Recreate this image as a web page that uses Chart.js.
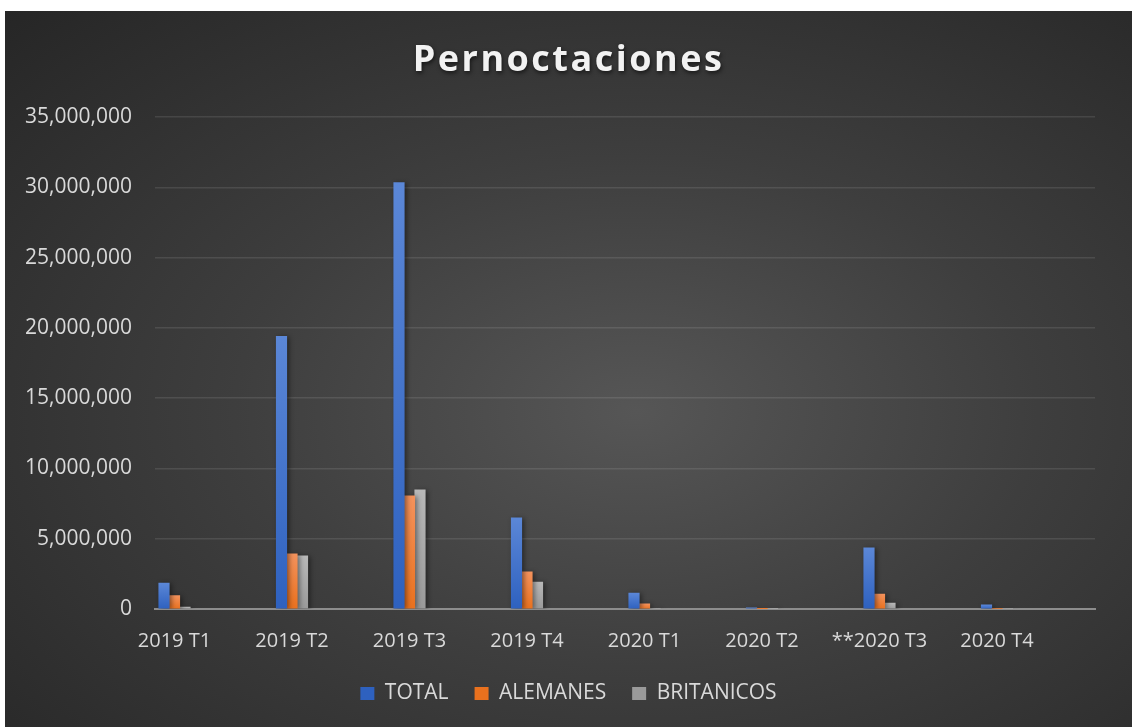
<!DOCTYPE html>
<html>
<head>
<meta charset="utf-8">
<script src="https://cdn.jsdelivr.net/npm/chart.js@4.4.1/dist/chart.umd.min.js"></script>
<style>
  html, body { margin: 0; padding: 0; background: #fff; }
  #wrap {
    position: absolute; left: 5px; top: 11px; width: 1127px; height: 716px;
    background: radial-gradient(ellipse farthest-corner at 56% 56%, #565656 0%, #3e3e3e 45%, #262626 100%);
  }
</style>
</head>
<body>
<div id="wrap"><canvas id="pernoct" width="1127" height="716"></canvas></div>
<script>
// chart data - Pernoctaciones por trimestre
var categories = ['2019 T1', '2019 T2', '2019 T3', '2019 T4', '2020 T1', '2020 T2', '**2020 T3', '2020 T4'];
var total = [1850000, 19400000, 30350000, 6490000, 1140000, 90000, 4350000, 290000];
var alemanes = [950000, 3920000, 8060000, 2640000, 360000, 30000, 1070000, 40000];
var britanicos = [140000, 3780000, 8480000, 1920000, 40000, 20000, 430000, 50000];
var yTicks = [0, 5000000, 10000000, 15000000, 20000000, 25000000, 30000000, 35000000];

function points(values) {
    return values.map(function(v, i) { return { x: i, y: v }; });
}

// vertical gradient per bar, like the office fill
function barFill(light, mid, dark) {
    return function(ctx) {
        if (ctx.type !== 'data' || !ctx.chart.chartArea) return mid;
        var y = ctx.chart.scales.y;
        var top = y.getPixelForValue(ctx.raw.y);
        var bottom = y.getPixelForValue(0);
        if (bottom - top < 1) return mid;
        var g = ctx.chart.ctx.createLinearGradient(0, top, 0, bottom);
        g.addColorStop(0, light);
        g.addColorStop(1, dark);
        return g;
    };
}

// spaced title with a soft shadow
var titleStyle = {
    id: 'titleStyle',
    afterInit: function(chart) {
        var block = chart.titleBlock;
        var draw = block.draw;
        block.draw = function() {
            var c = chart.ctx;
            c.save();
            c.letterSpacing = '2.5px';
            c.shadowColor = 'rgba(0,0,0,0.6)';
            c.shadowBlur = 4;
            c.shadowOffsetX = 1;
            c.shadowOffsetY = 2;
            draw.apply(block, arguments);
            c.restore();
        };
    }
};

// bar shadows
var barShadow = {
    id: 'barShadow',
    beforeDatasetsDraw: function(chart) {
        var c = chart.ctx;
        c.save();
        c.shadowColor = 'rgba(0,0,0,0.45)';
        c.shadowBlur = 5;
        c.shadowOffsetX = 2;
        c.shadowOffsetY = 1;
    },
    afterDatasetsDraw: function(chart) {
        chart.ctx.restore();
    }
};

var ctx = document.getElementById('pernoct').getContext('2d');
var myChart = new Chart(ctx, {
    type: 'bar',
    data: {
        datasets: [{
            label: 'TOTAL',
            data: points(total),
            backgroundColor: barFill('#5b87d7', '#4472C4', '#2e61bf')
        }, {
            label: 'ALEMANES',
            data: points(alemanes),
            backgroundColor: barFill('#f4925c', '#ED7D31', '#e9711e')
        }, {
            label: 'BRITANICOS',
            data: points(britanicos),
            backgroundColor: barFill('#b8b8b8', '#A5A5A5', '#9a9a9a')
        }]
    },
    plugins: [titleStyle, barShadow],
    options: {
        responsive: false,
        animation: false,
        events: [],
        barThickness: 10.5,
        borderWidth: 0,
        layout: { padding: { left: 0, right: 0, top: 0, bottom: 13 } },
        scales: {
            x: {
                type: 'linear',
                offset: false,
                min: -0.166,
                max: 7.834,
                grid: { display: false, drawTicks: false },
                border: { display: true, color: '#8d8d8d', width: 2 },
                afterBuildTicks: function(axis) {
                    axis.ticks = categories.map(function(c, i) { return { value: i }; });
                },
                afterFit: function(axis) {
                    axis.paddingRight = 37;
                    axis.height = 48;
                },
                ticks: {
                    autoSkip: false,
                    maxRotation: 0,
                    padding: 20,
                    color: '#d9d9d9',
                    font: { family: 'Open Sans', size: 20 },
                    callback: function(v) { return categories[v]; }
                }
            },
            y: {
                min: 0,
                max: 35000000,
                grid: { color: 'rgba(255,255,255,0.1)', lineWidth: 1.5, drawTicks: false },
                border: { display: false },
                afterBuildTicks: function(axis) {
                    axis.ticks = yTicks.map(function(v) { return { value: v }; });
                },
                afterFit: function(axis) {
                    axis.width = 150;
                },
                ticks: {
                    padding: 23,
                    color: '#d9d9d9',
                    font: { family: 'Open Sans', size: 21 },
                    callback: function(v) { return v.toLocaleString('en-US'); }
                }
            }
        },
        plugins: {
            title: {
                display: true,
                text: 'Pernoctaciones',
                color: '#f2f2f2',
                font: { family: 'Open Sans', size: 36, weight: 'bold' },
                padding: { top: 28, bottom: 35 }
            },
            legend: {
                position: 'bottom',
                labels: {
                    color: '#d9d9d9',
                    font: { family: 'Open Sans', size: 21 },
                    boxWidth: 14,
                    boxHeight: 13,
                    padding: 26
                }
            },
            tooltip: { enabled: false }
        }
    }
});
</script>
</body>
</html>
